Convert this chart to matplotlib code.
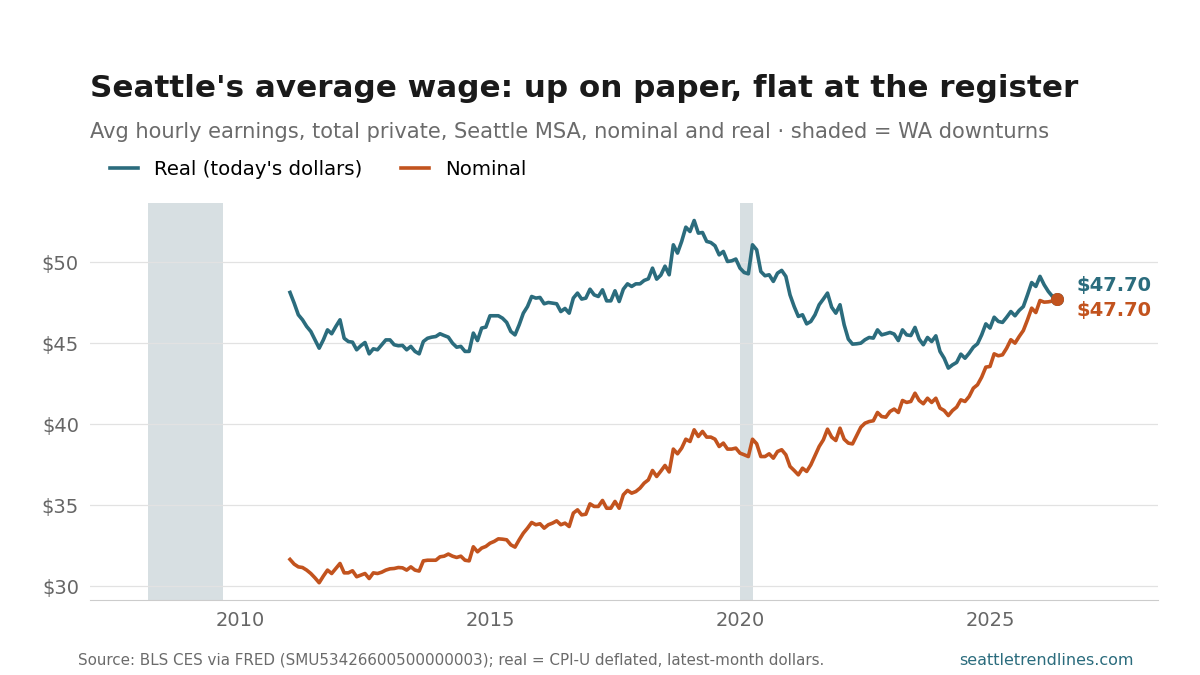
import matplotlib
matplotlib.use("Agg")
import matplotlib.pyplot as plt
import numpy as np
import pandas as pd

# monthly series, Jan 2011 .. May 2026
real = [
    48.13, 47.47, 46.75, 46.44, 46.03, 45.72, 45.20, 44.69, 45.20, 45.82, 45.58, 46.03,
    46.44, 45.30, 45.10, 45.06, 44.59, 44.84, 45.04, 44.34, 44.65, 44.59, 44.90, 45.20,
    45.20, 44.90, 44.84, 44.86, 44.59, 44.80, 44.49, 44.34, 45.10, 45.30, 45.37, 45.41,
    45.58, 45.47, 45.37, 45.00, 44.75, 44.80, 44.49, 44.49, 45.62, 45.16, 45.93, 45.99,
    46.69, 46.69, 46.69, 46.54, 46.28, 45.72, 45.51, 46.13, 46.85, 47.26, 47.88, 47.78,
    47.82, 47.43, 47.51, 47.47, 47.43, 46.95, 47.14, 46.85, 47.78, 48.09, 47.72, 47.78,
    48.33, 47.98, 47.88, 48.29, 47.61, 47.61, 48.23, 47.57, 48.33, 48.66, 48.50, 48.66,
    48.66, 48.87, 48.97, 49.63, 48.95, 49.20, 49.75, 49.22, 51.07, 50.56, 51.28, 52.16,
    51.89, 52.57, 51.79, 51.83, 51.28, 51.21, 51.01, 50.45, 50.66, 50.04, 50.08, 50.19,
    49.63, 49.36, 49.28, 51.07, 50.76, 49.42, 49.16, 49.22, 48.81, 49.32, 49.49, 49.12,
    47.98, 47.26, 46.65, 46.75, 46.19, 46.34, 46.75, 47.37, 47.72, 48.09, 47.22, 46.85,
    47.37, 46.13, 45.25, 44.94, 44.96, 45.00, 45.21, 45.35, 45.31, 45.82, 45.51, 45.58,
    45.66, 45.56, 45.16, 45.82, 45.51, 45.47, 45.97, 45.25, 44.90, 45.35, 45.10, 45.45,
    44.49, 44.07, 43.46, 43.66, 43.81, 44.32, 44.07, 44.38, 44.75, 44.96, 45.51, 46.19,
    45.93, 46.60, 46.34, 46.28, 46.60, 46.95, 46.69, 47.02, 47.26, 47.98, 48.74, 48.50,
    49.12, 48.60, 48.19, 47.88, 47.70,
]
nominal = [
    31.65, 31.36, 31.19, 31.15, 30.99, 30.78, 30.51, 30.21, 30.62, 30.99, 30.78, 31.09,
    31.40, 30.82, 30.82, 30.95, 30.58, 30.68, 30.78, 30.47, 30.82, 30.78, 30.86, 30.99,
    31.07, 31.09, 31.15, 31.13, 30.99, 31.19, 30.99, 30.93, 31.56, 31.60, 31.60, 31.60,
    31.81, 31.85, 31.98, 31.85, 31.77, 31.85, 31.60, 31.56, 32.43, 32.12, 32.35, 32.45,
    32.65, 32.76, 32.92, 32.90, 32.86, 32.55, 32.41, 32.86, 33.27, 33.58, 33.93, 33.79,
    33.85, 33.58, 33.79, 33.89, 34.03, 33.79, 33.89, 33.68, 34.51, 34.71, 34.40, 34.44,
    35.08, 34.92, 34.92, 35.29, 34.81, 34.81, 35.23, 34.81, 35.64, 35.91, 35.74, 35.84,
    36.05, 36.36, 36.56, 37.14, 36.77, 37.10, 37.45, 37.05, 38.46, 38.17, 38.52, 39.07,
    38.93, 39.65, 39.24, 39.55, 39.20, 39.20, 39.07, 38.62, 38.83, 38.46, 38.46, 38.52,
    38.21, 38.11, 38.00, 39.07, 38.79, 38.00, 38.00, 38.17, 37.90, 38.31, 38.42, 38.11,
    37.39, 37.14, 36.87, 37.28, 37.08, 37.49, 38.05, 38.62, 39.03, 39.69, 39.20, 38.99,
    39.75, 39.07, 38.83, 38.78, 39.30, 39.81, 40.06, 40.16, 40.21, 40.72, 40.47, 40.43,
    40.78, 40.93, 40.72, 41.46, 41.34, 41.40, 41.91, 41.46, 41.26, 41.60, 41.34, 41.60,
    40.99, 40.84, 40.53, 40.84, 41.05, 41.50, 41.40, 41.71, 42.22, 42.43, 42.90, 43.52,
    43.56, 44.34, 44.22, 44.28, 44.69, 45.21, 45.00, 45.41, 45.78, 46.44, 47.16, 46.89,
    47.63, 47.53, 47.55, 47.60, 47.70,
]
downturns = [("2008-03", "2009-09"), ("2020-01", "2020-04")]
year_ticks = [2010, 2015, 2020, 2025]
dollar_ticks = [30, 35, 40, 45, 50]

REAL_C = "#2b6c7d"
NOM_C = "#c2531e"
SHADE_C = "#d7dfe2"

months = pd.date_range("2011-01-01", periods=len(real), freq="MS")
x = months.year + (months.month - 1) / 12.0


def dec_year(s):
    d = pd.Timestamp(s)
    return d.year + (d.month - 1) / 12.0


fig = plt.figure(figsize=(12, 6.75), dpi=100)
ax = fig.add_axes([0.075, 0.111, 0.89, 0.588])

for a, b in downturns:
    ax.axvspan(dec_year(a), dec_year(b), color=SHADE_C, lw=0, zorder=0)

ax.plot(x, real, color=REAL_C, lw=2.6, label="Real (today's dollars)", zorder=3)
ax.plot(x, nominal, color=NOM_C, lw=2.6, label="Nominal", zorder=3)
ax.scatter([x[-1]], [real[-1]], s=70, color=REAL_C, zorder=4)
ax.scatter([x[-1]], [nominal[-1]], s=70, color=NOM_C, zorder=5)

ax.annotate(f"${real[-1]:.2f}", (x[-1], real[-1]), xytext=(14, 10), textcoords="offset points",
            color=REAL_C, fontsize=14, fontweight="bold", va="center")
ax.annotate(f"${nominal[-1]:.2f}", (x[-1], nominal[-1]), xytext=(14, -8), textcoords="offset points",
            color=NOM_C, fontsize=14, fontweight="bold", va="center")

ax.set_xlim(2007.0, 2028.36)
ax.set_ylim(29.14, 53.64)
ax.set_xticks(year_ticks)
ax.set_xticklabels([str(t) for t in year_ticks])
ax.set_yticks(dollar_ticks)
ax.set_yticklabels([f"${t}" for t in dollar_ticks])
ax.tick_params(axis="both", length=0, labelsize=14, labelcolor="#666666", pad=8)
ax.grid(axis="y", color="#e2e2e2", lw=0.9)
ax.set_axisbelow(True)
for s in ["left", "right", "top"]:
    ax.spines[s].set_visible(False)
ax.spines["bottom"].set_color("#cccccc")

fig.text(0.075, 0.869, "Seattle's average wage: up on paper, flat at the register",
         fontsize=22.3, fontweight="bold", color="#1a1a1a", va="center")
fig.text(0.075, 0.805, "Avg hourly earnings, total private, Seattle MSA, nominal and real \u00b7 shaded = WA downturns",
         fontsize=15.1, color="#6b6b6b", va="center")

fig.legend(loc="center left", bbox_to_anchor=(0.077, 0.749), ncol=2, frameon=False,
           fontsize=14.2, handlelength=1.4, columnspacing=2.0, handletextpad=0.8)

fig.text(0.065, 0.022, "Source: BLS CES via FRED (SMU53426600500000003); real = CPI-U deflated, latest-month dollars.",
         fontsize=10.9, color="#6b6b6b", va="center")
fig.text(0.945, 0.022, "seattletrendlines.com", fontsize=11.5, color=REAL_C, ha="right", va="center")

fig.savefig("out.png", dpi=100)
